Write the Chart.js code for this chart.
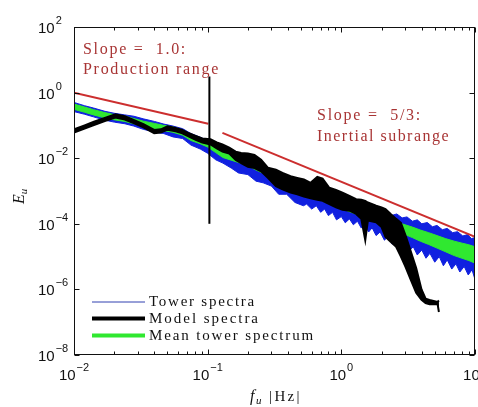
<!DOCTYPE html>
<html><head><meta charset="utf-8">
<script src="https://cdn.jsdelivr.net/npm/chart.js@4.4.1/dist/chart.umd.min.js"></script>
<style>html,body{margin:0;padding:0;background:#fff;overflow:hidden}</style>
</head><body>
<canvas id="c" width="478" height="407"></canvas>
<script>
// ---- data (frequencies in Hz, spectral values as log10 exponents) ----
const blueUpperFreq = [0.010,0.012,0.014,0.017,0.020,0.024,0.028,0.033,0.040,0.047,0.055,0.065,0.075,0.088,0.10,0.115,0.13,0.15,0.17,0.20,0.23,0.26,0.30,0.34,0.39,0.45,0.52,0.60,0.70,0.80,0.90,
  1.0,1.1,1.2,1.3,1.42,1.55,1.7,1.85,2.0,2.2,2.4,2.6,2.85,3.1,3.4,3.7,4.0,4.4,4.8,5.2,5.7,6.2,6.8,7.4,8.1,8.8,9.4,10];
const blueUpperExp = [-0.30,-0.40,-0.47,-0.57,-0.63,-0.68,-0.72,-0.80,-0.88,-0.96,-1.02,-1.10,-1.25,-1.36,-1.46,-1.62,-1.78,-1.86,-1.93,-2.03,-2.16,-2.26,-2.38,-2.48,-2.63,-2.73,-2.86,-2.98,-3.08,-3.18,-3.26,
  -3.33,-3.30,-3.42,-3.38,-3.50,-3.46,-3.58,-3.54,-3.65,-3.62,-3.74,-3.70,-3.82,-3.79,-3.92,-3.88,-4.00,-3.96,-4.09,-4.05,-4.18,-4.14,-4.27,-4.24,-4.37,-4.33,-4.45,-4.42];
const blueLowerFreq = [0.010,0.012,0.014,0.017,0.020,0.024,0.028,0.033,0.040,0.047,0.055,0.065,0.075,0.088,0.10,0.115,0.13,0.15,0.17,0.20,0.23,0.26,0.30,0.34,0.39,0.45,0.52,
  0.55,0.6,0.65,0.7,0.75,0.8,0.86,0.92,1.0,1.07,1.15,1.23,1.32,1.41,1.5,1.6,1.7,1.82,1.95,2.1,2.25,2.4,2.6,2.8,3.0,3.2,3.45,3.7,4.0,4.3,4.6,5.0,5.4,5.8,6.2,6.7,7.2,7.7,8.3,8.9,9.5,10];
const blueLowerExp = [-0.58,-0.66,-0.74,-0.84,-0.90,-0.95,-1.02,-1.12,-1.20,-1.25,-1.35,-1.40,-1.60,-1.72,-1.85,-2.05,-2.15,-2.30,-2.45,-2.50,-2.70,-2.75,-2.85,-3.10,-3.10,-3.35,-3.45,
  -3.40,-3.55,-3.45,-3.65,-3.55,-3.75,-3.65,-3.88,-3.78,-3.97,-3.85,-4.03,-3.92,-4.13,-4.02,-4.25,-4.12,-4.36,-4.25,-4.50,-4.38,-4.62,-4.50,-4.76,-4.60,-4.84,-4.70,-4.95,-4.80,-5.05,-4.90,-5.17,-5.00,-5.28,-5.10,-5.38,-5.22,-5.47,-5.30,-5.56,-5.40,-5.70];

const meanFreq = [0.010,0.012,0.014,0.017,0.020,0.024,0.028,0.033,0.040,0.047,0.055,0.065,0.075,0.088,0.10,0.115,0.13,0.15,0.17,0.20,0.23,0.26,0.30,0.34,0.39,0.45,0.52,0.60,0.70,0.80,0.90,1.0,1.15,1.3,1.5,1.7,2.0,2.3,2.6,3.0,3.4,3.9,4.5,5.2,6.0,7.0,8.0,9.0,10];
const greenUpperExp = [-0.35,-0.44,-0.52,-0.61,-0.67,-0.72,-0.79,-0.87,-0.94,-1.00,-1.05,-1.14,-1.30,-1.40,-1.50,-1.67,-1.82,-1.90,-1.97,-2.07,-2.20,-2.30,-2.42,-2.52,-2.67,-2.77,-2.90,-3.02,-3.12,-3.22,-3.30,-3.37,-3.47,-3.55,-3.63,-3.70,-3.79,-3.88,-3.95,-4.03,-4.10,-4.19,-4.27,-4.36,-4.45,-4.53,-4.59,-4.64,-4.70];
const greenLowerExp = [-0.51,-0.60,-0.68,-0.77,-0.83,-0.88,-0.95,-1.03,-1.10,-1.16,-1.21,-1.30,-1.46,-1.56,-1.66,-1.83,-1.98,-2.06,-2.13,-2.23,-2.36,-2.46,-2.58,-2.68,-2.83,-2.93,-3.06,-3.18,-3.28,-3.38,-3.46,-3.53,-3.63,-3.71,-3.81,-3.90,-4.01,-4.12,-4.21,-4.33,-4.42,-4.53,-4.63,-4.74,-4.85,-4.97,-5.05,-5.12,-5.20];

const modelFreq = [0.010,0.012,0.0141,0.017,0.0204,0.024,0.0282,0.0331,0.0398,0.0447,0.0501,0.0575,0.0646,0.0724,0.0813,0.0912,0.105,0.117,0.129,0.145,0.162,0.178,0.200,0.224,0.251,0.282,0.324,0.363,0.417,0.468,0.525,0.589,0.661,0.724,0.813,0.912,1.02,1.15,1.29,1.41,1.51,1.58,1.82,2.00,2.14,2.34,2.57,2.79,3.02,3.31,3.63,3.98,4.27,4.57,4.90,5.25,5.37];
const modelUpperExp = [-1.12,-1.00,-0.89,-0.77,-0.66,-0.72,-0.84,-0.96,-1.14,-1.12,-1.03,-1.08,-1.14,-1.24,-1.32,-1.40,-1.42,-1.52,-1.58,-1.68,-1.80,-1.84,-1.86,-1.90,-2.05,-2.29,-2.35,-2.45,-2.55,-2.60,-2.65,-2.75,-2.57,-2.62,-2.90,-2.97,-3.05,-3.15,-3.25,-3.27,-3.30,-3.35,-3.45,-3.50,-3.55,-3.70,-3.85,-3.97,-4.35,-4.85,-5.35,-6.00,-6.28,-6.32,-6.35,-6.38,-6.34];
const modelLowerExp = [-1.22,-1.10,-0.99,-0.87,-0.76,-0.82,-0.94,-1.06,-1.24,-1.22,-1.13,-1.18,-1.24,-1.34,-1.44,-1.52,-1.58,-1.70,-1.80,-1.86,-2.05,-2.15,-2.26,-2.30,-2.40,-2.60,-2.85,-2.95,-3.05,-3.10,-3.17,-3.22,-3.27,-3.30,-3.40,-3.50,-3.57,-3.60,-3.70,-3.85,-4.50,-3.90,-3.95,-4.10,-4.40,-4.55,-4.70,-5.00,-5.31,-5.71,-6.10,-6.32,-6.42,-6.45,-6.45,-6.45,-6.69];

const slopeOneFreq = [0.01, 0.101];
const slopeOneE = [1.0, 0.112];
const slopeFiveThirdsFreq = [0.129, 10];
const slopeFiveThirdsE = [0.059, 4.0e-5];
const dividerFreq = [0.103, 0.103];
const dividerE = [1e-4, 3.1];

const xTickExponents = [-2, -1, 0, 1];
const yTickExponents = [2, 0, -2, -4, -6, -8];
const legendLabels = ['Tower spectra', 'Model spectra', 'Mean tower spectrum'];
const annotationLines = [['Slope =  1.0:', 'Production range'], ['Slope =  5/3:', 'Inertial subrange']];

// ---- styling ----
const BLUE = '#1020e0', GREEN = '#30e830', BLACK = '#000000', RED = '#cc2e2e', TEXTRED = '#a83434';
const fromExp = (xs, es) => xs.map((f, i) => ({x: f, y: 10 ** es[i]}));
const pairs = (xs, ys) => xs.map((f, i) => ({x: f, y: ys[i]}));

function fitText(ctx, text, x, y, width) {
  const m = ctx.measureText(text).width;
  if ('letterSpacing' in ctx) {
    ctx.letterSpacing = ((width - m) / text.length) + 'px';
    ctx.fillText(text, x, y);
    ctx.letterSpacing = '0px';
  } else {
    ctx.save(); ctx.translate(x, y); ctx.scale(width / m, 1); ctx.fillText(text, 0, 0); ctx.restore();
  }
}
function supText(e) { return e < 0 ? '\u2212' + (-e) : String(e); }

const decor = {
  id: 'decor',
  beforeDraw(chart) {
    const c = chart.ctx; c.save(); c.fillStyle = '#fff'; c.fillRect(0, 0, chart.width, chart.height); c.restore();
  },
  afterDraw(chart) {
    const c = chart.ctx, a = chart.chartArea, xs = chart.scales.x, ys = chart.scales.y;
    c.save();
    c.strokeStyle = '#111'; c.lineWidth = 1;
    const L = Math.round(a.left) + 0.5, R = Math.round(a.right) - 0.5, T = Math.round(a.top) + 0.5, B = Math.round(a.bottom) - 0.5;
    c.strokeRect(L, T, R - L, B - T);
    c.beginPath();
    for (let e = -2; e <= 1; e++) {
      const px = Math.round(xs.getPixelForValue(10 ** e)) + 0.5;
      c.moveTo(px, B); c.lineTo(px, B - 5); c.moveTo(px, T); c.lineTo(px, T + 5);
      if (e < 1) for (let k = 2; k <= 9; k++) {
        const mx = Math.round(xs.getPixelForValue(k * 10 ** e)) + 0.5;
        c.moveTo(mx, B); c.lineTo(mx, B - 3); c.moveTo(mx, T); c.lineTo(mx, T + 3);
      }
    }
    yTickExponents.forEach(e => {
      const py = Math.round(ys.getPixelForValue(10 ** e)) + 0.5;
      c.moveTo(L, py); c.lineTo(L + 5, py); c.moveTo(R, py); c.lineTo(R - 5, py);
    });
    c.stroke();

    // tick labels
    c.fillStyle = '#111'; c.textBaseline = 'alphabetic'; c.textAlign = 'left';
    const big = '15px "Liberation Sans", Arial, sans-serif', small = '11px "Liberation Sans", Arial, sans-serif';
    yTickExponents.forEach(e => {
      const py = ys.getPixelForValue(10 ** e);
      c.font = big; c.fillText('10', 38, py + 6);
      const w = c.measureText('10').width;
      c.font = small; c.fillText(supText(e), 38 + w + 1, py - 3);
    });
    xTickExponents.forEach(e => {
      const px = xs.getPixelForValue(10 ** e);
      c.font = big; const w1 = c.measureText('10').width;
      c.font = small; const w2 = c.measureText(supText(e)).width;
      const x0 = px - (w1 + w2 + 1) / 2;
      c.font = big; c.fillText('10', x0, 380);
      c.font = small; c.fillText(supText(e), x0 + w1 + 1, 371);
    });

    // axis titles
    c.font = 'italic 16px "Liberation Serif", serif';
    c.fillText('f', 250, 401);
    c.font = 'italic 11px "Liberation Serif", serif';
    c.fillText('u', 256, 404);
    c.font = '15px "Liberation Serif", serif';
    fitText(c, '|Hz|', 269, 401, 33);
    c.save();
    c.translate(24, 204); c.rotate(-Math.PI / 2);
    c.font = 'italic 16px "Liberation Serif", serif';
    c.fillText('E', 0, 0);
    const wE = c.measureText('E').width;
    c.font = 'italic 11px "Liberation Serif", serif';
    c.fillText('u', wE, 3);
    c.restore();

    // annotations
    c.fillStyle = TEXTRED; c.font = '16px "Liberation Serif", serif';
    fitText(c, annotationLines[0][0], 83, 54, 104);
    fitText(c, annotationLines[0][1], 83, 74, 137);
    fitText(c, annotationLines[1][0], 317, 120, 105);
    fitText(c, annotationLines[1][1], 317, 141, 133);

    // legend
    const rows = [{y: 302, col: '#3040b0', w: 1, tw: 107}, {y: 318.5, col: BLACK, w: 4, tw: 111}, {y: 335.5, col: GREEN, w: 4, tw: 166}];
    c.font = '15px "Liberation Serif", serif'; c.fillStyle = '#111';
    rows.forEach((r, i) => {
      c.strokeStyle = r.col; c.lineWidth = r.w;
      c.beginPath(); c.moveTo(92, r.y); c.lineTo(145, r.y); c.stroke();
      fitText(c, legendLabels[i], 149, r.y + 4, r.tw);
    });
    c.restore();
  }
};

new Chart(document.getElementById('c'), {
  type: 'line',
  data: {
    datasets: [
      {label: 'divider', data: pairs(dividerFreq, dividerE), borderColor: BLACK, borderWidth: 2, fill: false, order: 0},
      {label: 'slope 1', data: pairs(slopeOneFreq, slopeOneE), borderColor: RED, borderWidth: 2, fill: false, order: 1},
      {label: 'slope 5/3', data: pairs(slopeFiveThirdsFreq, slopeFiveThirdsE), borderColor: RED, borderWidth: 2, fill: false, order: 1},
      {label: 'Model spectra (upper)', data: fromExp(modelFreq, modelUpperExp), borderColor: BLACK, backgroundColor: BLACK, borderWidth: 2, fill: false, order: 2},
      {label: 'Model spectra (lower)', data: fromExp(modelFreq, modelLowerExp), borderColor: BLACK, backgroundColor: BLACK, borderWidth: 2, fill: '-1', order: 2},
      {label: 'Mean tower spectrum (upper)', data: fromExp(meanFreq, greenUpperExp), borderColor: GREEN, backgroundColor: GREEN, borderWidth: 1, fill: false, order: 3},
      {label: 'Mean tower spectrum (lower)', data: fromExp(meanFreq, greenLowerExp), borderColor: GREEN, backgroundColor: GREEN, borderWidth: 1, fill: '-1', order: 3},
      {label: 'Tower spectra (upper)', data: fromExp(blueUpperFreq, blueUpperExp), borderColor: BLUE, backgroundColor: BLUE, borderWidth: 1, fill: false, order: 4},
      {label: 'Tower spectra (lower)', data: fromExp(blueLowerFreq, blueLowerExp), borderColor: BLUE, backgroundColor: BLUE, borderWidth: 1, fill: '-1', order: 4}
    ]
  },
  options: {
    responsive: false, animation: false, devicePixelRatio: 1,
    layout: {padding: {left: 74, right: 3, top: 27, bottom: 52}},
    scales: {
      x: {type: 'logarithmic', min: 0.01, max: 10, display: false},
      y: {type: 'logarithmic', min: 1e-8, max: 100, display: false}
    },
    elements: {point: {radius: 0}, line: {tension: 0}},
    plugins: {legend: {display: false}, tooltip: {enabled: false}}
  },
  plugins: [decor]
});
</script>
</body></html>
